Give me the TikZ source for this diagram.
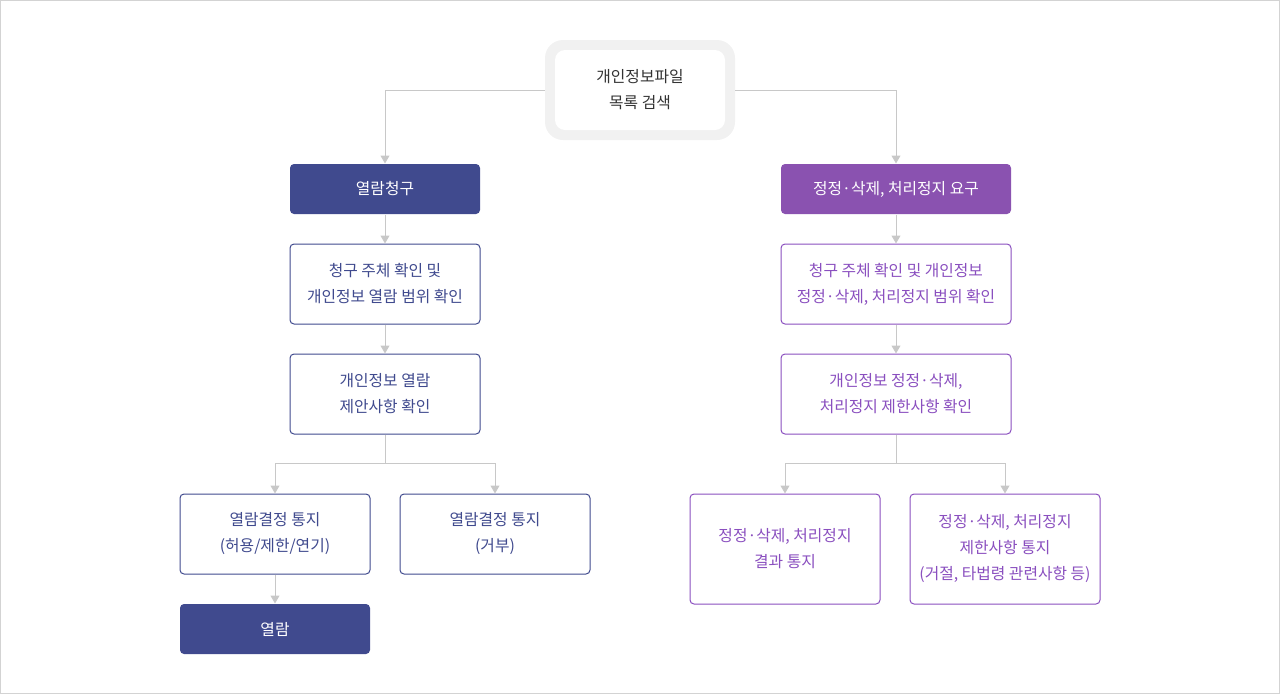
\documentclass[tikz,border=0pt]{standalone}
\usepackage{fontspec}
\setmainfont{Noto Sans CJK KR}
\usetikzlibrary{arrows.meta}
\definecolor{navy}{HTML}{404A8E}
\definecolor{purp}{HTML}{8A52B0}
\definecolor{purpline}{HTML}{8A4FBF}
\definecolor{conn}{HTML}{C8C8C8}
\definecolor{topgray}{HTML}{F1F1F1}
\definecolor{txt}{HTML}{333333}
\tikzset{
  base/.style={rounded corners=4pt, line width=1pt, align=center, inner sep=0pt,
    font=\fontsize{15.8pt}{26pt}\selectfont, minimum width=190pt},
  navyfill/.style={base, fill=navy, text=white, minimum height=50pt},
  purpfill/.style={base, fill=purp, text=white, minimum height=50pt, minimum width=230pt},
  navybox/.style={base, draw=navy, fill=white, text=navy, minimum height=80pt},
  purpbox/.style={base, draw=purpline, fill=white, text=purpline, minimum height=80pt},
  conn/.style={draw=conn, line width=1pt, -{Triangle[width=9pt,length=8pt]}},
  connline/.style={draw=conn, line width=1pt}
}
\begin{document}
\begin{tikzpicture}[x=1pt,y=-1pt]
\useasboundingbox (0,0) rectangle (1280,694);
\draw[draw=conn!80, line width=1pt] (0.5,0.5) rectangle (1279.5,693.5);
% top node
\node[rounded corners=18pt, fill=topgray, minimum width=190pt, minimum height=100pt, inner sep=0pt] (top) at (640,90) {};
\node[rounded corners=10pt, fill=white, minimum width=170pt, minimum height=80pt, inner sep=0pt, align=center, text=txt, font=\fontsize{15.8pt}{26pt}\selectfont] (topin) at (640,90) {개인정보파일\\목록 검색};
% left column
\node[navyfill] (a1) at (385,189) {열람청구};
\node[navybox] (a2) at (385,284) {청구 주체 확인 및\\개인정보 열람 범위 확인};
\node[navybox] (a3) at (385,394) {개인정보 열람\\제안사항 확인};
\node[navybox] (a4) at (275,534) {열람결정 통지\\(허용/제한/연기)};
\node[navybox] (a5) at (495,534) {열람결정 통지\\(거부)};
\node[navyfill] (a6) at (275,629) {열람};
% right column
\node[purpfill] (b1) at (896,189) {정정·삭제, 처리정지 요구};
\node[purpbox, minimum width=230pt] (b2) at (896,284) {청구 주체 확인 및 개인정보\\정정·삭제, 처리정지 범위 확인};
\node[purpbox, minimum width=230pt] (b3) at (896,394) {개인정보 정정·삭제,\\처리정지 제한사항 확인};
\node[purpbox, minimum height=110pt] (b4) at (785,549) {정정·삭제, 처리정지\\결과 통지};
\node[purpbox, minimum height=110pt] (b5) at (1005,549) {정정·삭제, 처리정지\\제한사항 통지\\(거절, 타법령 관련사항 등)};
% connectors
\coordinate (ja) at (385,463);
\coordinate (jb) at (896,463);
\draw[conn] (top.west) -| (a1.north);
\draw[conn] (top.east) -| (b1.north);
\draw[conn] (a1) -- (a2);
\draw[conn] (a2) -- (a3);
\draw[connline] (a3.south) -- (ja);
\draw[conn] (ja) -| (a4.north);
\draw[conn] (ja) -| (a5.north);
\draw[conn] (a4) -- (a6);
\draw[conn] (b1) -- (b2);
\draw[conn] (b2) -- (b3);
\draw[connline] (b3.south) -- (jb);
\draw[conn] (jb) -| (b4.north);
\draw[conn] (jb) -| (b5.north);
\end{tikzpicture}
\end{document}
